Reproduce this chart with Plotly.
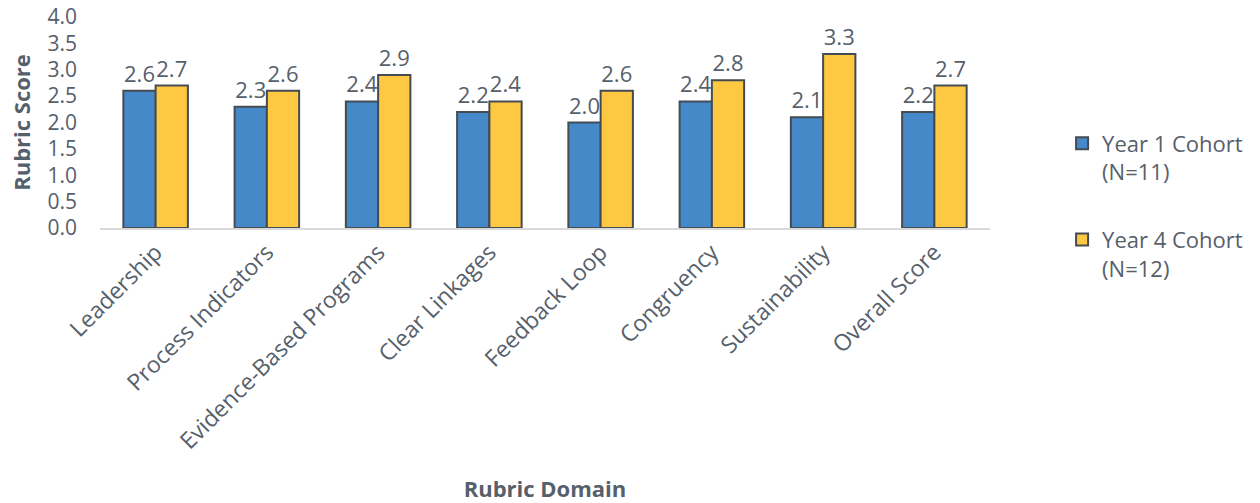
import plotly.graph_objects as go

domains = ["Leadership", "Process Indicators", "Evidence-Based Programs", "Clear Linkages",
           "Feedback Loop", "Congruency", "Sustainability", "Overall Score"]
year1_scores = [2.6, 2.3, 2.4, 2.2, 2.0, 2.4, 2.1, 2.2]
year4_scores = [2.7, 2.6, 2.9, 2.4, 2.6, 2.8, 3.3, 2.7]
series_names = ["Year 1 Cohort<br>(N=11)", "Year 4 Cohort<br>(N=12)"]
y_ticks = [0.0, 0.5, 1.0, 1.5, 2.0, 2.5, 3.0, 3.5, 4.0]

TEXT = "#56606b"
FONT = "Open Sans, Noto Sans, sans-serif"

fig = go.Figure()
for i, (name, vals, color) in enumerate([(series_names[0], year1_scores, "#4589c8"),
                                         (series_names[1], year4_scores, "#ffc843")]):
    fig.add_trace(go.Bar(
        x=domains, y=vals, name=name, legendgroup=f"g{i}",
        marker=dict(color=color, line=dict(color="#444b52", width=2)),
        text=[f"{v:.1f}" for v in vals], textposition="outside",
        textfont=dict(size=22, color=TEXT, family=FONT),
        cliponaxis=False,
    ))

fig.update_layout(
    width=1260, height=503,
    margin=dict(l=100, r=270, t=17, b=275),
    paper_bgcolor="white", plot_bgcolor="white",
    barmode="group", bargap=0.42, bargroupgap=0,
    uniformtext=dict(minsize=22, mode="show"),
    font=dict(family=FONT, color=TEXT),
    legend=dict(x=1.081, y=0.50, xanchor="left", yanchor="top",
                font=dict(size=22, color=TEXT, family=FONT),
                traceorder="grouped", tracegroupgap=36, valign="top",
                itemsizing="constant"),
    xaxis=dict(
        tickangle=-45, tickfont=dict(size=23, color=TEXT, family=FONT),
        showline=True, linecolor="#d9d9d9", linewidth=1.5, ticks="",
        automargin=False,
        title=dict(text="<b>Rubric Domain</b>", font=dict(size=22, color=TEXT, family=FONT),
                   standoff=38),
    ),
    yaxis=dict(
        range=[0, 4.0], tickvals=y_ticks, ticktext=[f"{v:.1f}" for v in y_ticks],
        tickfont=dict(size=21, color=TEXT, family=FONT),
        showgrid=False, zeroline=False, ticks="", ticklabelstandoff=22,
        automargin=False,
        title=dict(text="<b>Rubric Score</b>", font=dict(size=22, color=TEXT, family=FONT),
                   standoff=10),
    ),
)

fig.write_html("out.html")
